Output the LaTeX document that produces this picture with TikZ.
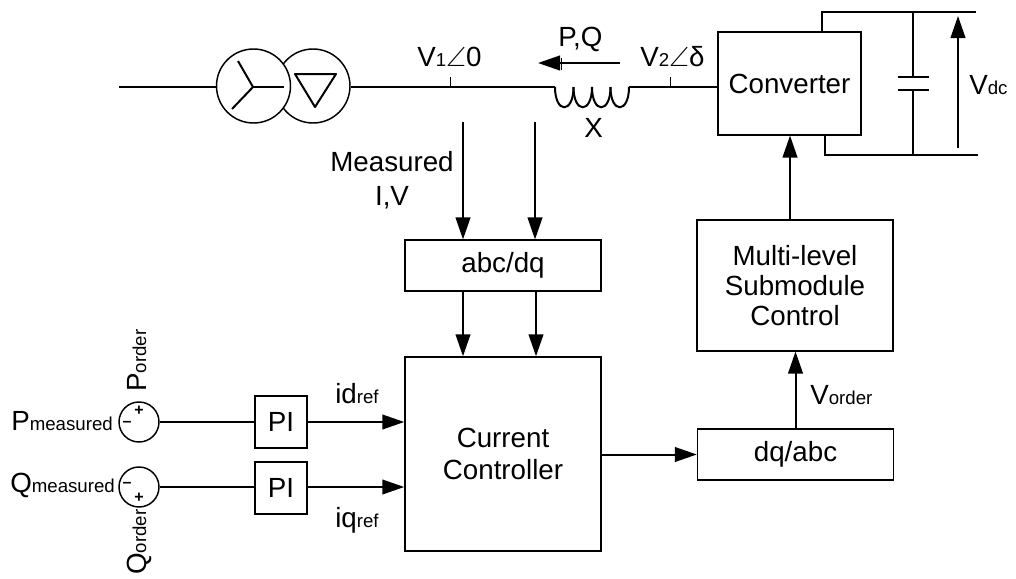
\documentclass[tikz,border=0pt]{standalone}
\usepackage{amsmath}
\usepackage{amssymb}
\usepackage{fontspec}
\setmainfont{Liberation Sans}
\usetikzlibrary{arrows.meta}
\newcommand{\subtxt}[1]{{\fontsize{14pt}{14pt}\selectfont #1}}

\begin{document}
\begin{tikzpicture}[
  x=0.75pt, y=-0.75pt,
  font=\fontsize{20.8pt}{22.5pt}\selectfont,
  box/.style={draw=black, line width=1.1pt, minimum width=#1, inner sep=0pt, align=center},
  box/.default=147pt,
  wire/.style={black, line width=1.5pt},
  thin wire/.style={black, line width=0.7pt},
  arr/.style={-{Stealth[length=16.5pt, width=11pt, inset=0pt]}, black, line width=1.5pt},
  sumcirc/.style={draw=black, circle, line width=1.1pt, minimum size=30pt, inner sep=0pt},
  xfmr/.style={draw=black, fill=white, circle, line width=1.1pt, minimum size=55.5pt, inner sep=0pt},
  lbl/.style={inner sep=0pt, anchor=base west},
  sign/.style={inner sep=0pt, font=\fontsize{12pt}{12pt}\selectfont\bfseries},
]
\useasboundingbox (0,0) rectangle (1016,578);

% power circuit
\node[xfmr] (delta) at (313,86) {};
\node[xfmr] (wye) at (253.5,86) {};
\coordinate (gridin) at (119,87);
\coordinate (lstart) at (555,87);
\coordinate (lend) at (629,87);
\node[box=107pt, minimum height=77pt] (conv) at (789.5,83.5) {Converter};
\draw[wire] (gridin) -- (wye.west |- gridin);
\draw[wire] (delta.east |- lstart) -- (lstart);
\draw[wire] (lend) -- (conv.west |- lend);
\foreach \xa/\xb in {555/573.5, 573.5/592, 592/610.5, 610.5/629} {
  \draw[wire] (\xa,87) .. controls (\xa,114) and (\xb,114) .. (\xb,87);
}
\draw[wire, line join=round] (238,61) -- (253,87) -- (232,109);
\draw[wire] (253,87) -- (284,87);
\draw[wire, line join=round] (295,74) -- (336,74) -- (315,107) -- cycle;
\draw[thin wire] (450,77) -- (450,87);
\draw[thin wire] (670,77) -- (670,87);
\draw[thin wire] (561,58) -- (561,70);

% dc side
\coordinate (dctop) at (976,12);
\coordinate (dcbot) at (978,155);
\coordinate (captop) at (913,77);
\coordinate (capbot) at (913,90);
\draw[wire] (conv.north -| 822,0) -- (822,12) -- (dctop);
\draw[wire] (conv.south -| 825,0) -- (825,155) -- (dcbot);
\draw[wire] (913,12) -- (captop);
\draw[wire] (913,155) -- (capbot);
\draw[wire] (898,77) -- (929,77);
\draw[wire] (898,90) -- (929,90);
\coordinate (vdcb) at (958,148);
\coordinate (vdct) at (958,16);
\draw[arr] (vdcb) -- (vdct);

% control boxes
\node[box, minimum height=38pt] (abc) at (503,265.5) {abc/dq};
\node[box, minimum height=145.5pt] (cc) at (503,454) {Current\\[2pt]Controller};
\node[box, minimum height=38pt] (dq) at (795.5,454.5) {dq/abc};
\node[box, minimum height=98pt] (sub) at (795,285.5) {Multi-level\\Submodule\\Control};
\node[box=39pt, minimum height=39pt] (pi1) at (281,422) {PI};
\node[box=39pt, minimum height=39pt] (pi2) at (281,488) {PI};
\node[sumcirc] (sum1) at (139,422) {};
\node[sumcirc] (sum2) at (139,487) {};

% signal flow
\coordinate (m1) at (463,122);
\coordinate (m2) at (535,122);
\draw[arr] (m1) -- (m1 |- abc.north);
\draw[arr] (m2) -- (m2 |- abc.north);
\coordinate (c1) at (463,291);
\coordinate (c2) at (536,291);
\draw[arr] (c1) -- (c1 |- cc.north);
\draw[arr] (c2) -- (c2 |- cc.north);
\draw[wire] (sum1.east) -- (pi1.west |- sum1.east);
\draw[wire] (sum2.east) -- (pi2.west |- sum2.east);
\draw[arr] (pi1.east |- sum1.east) -- (cc.west |- sum1.east);
\draw[arr] (pi2.east |- sum2.east) -- (cc.west |- sum2.east);
\draw[arr] (cc.east |- dq.west) -- (dq.west);
\draw[arr] (dq.north) -- (sub.south -| dq.north);
\coordinate (subout) at (790,220);
\draw[arr] (subout) -- (subout |- conv.south);
\coordinate (pqr) at (620,63);
\coordinate (pql) at (538,63);
\draw[arr] (pqr) -- (pql);

% labels
\node[lbl] (v1) at (417,66) {V\subtxt{1}$\angle$0};
\node[lbl] (v2) at (640,66) {V\subtxt{2}$\angle$δ};
\node[lbl] (pq) at (558,46) {P,Q};
\node[lbl] (xl) at (584,137) {X};
\node[lbl] (vdc) at (969,94) {V\subtxt{dc}};
\node[align=center, inner sep=0pt] (meas) at (392,180) {Measured\\[3pt]I,V};
\node[lbl] (idr) at (335,403) {id\subtxt{ref}};
\node[lbl] (iqr) at (335,527) {iq\subtxt{ref}};
\node[lbl] (vo) at (810,404) {V\subtxt{order}};
\node[lbl] (pm) at (11,430) {P\subtxt{measured}};
\node[lbl] (qm) at (10,492) {Q\subtxt{measured}};
\node[lbl, rotate=90] (po) at (146,392) {P\subtxt{order}};
\node[lbl, rotate=90] (qo) at (146,575) {Q\subtxt{order}};
\node[sign] (p1) at (139,411) {+};
\node[sign] (m3) at (127,424) {--};
\node[sign] (p2) at (139,498) {+};
\node[sign] (m4) at (127,485) {--};
\end{tikzpicture}
\end{document}
